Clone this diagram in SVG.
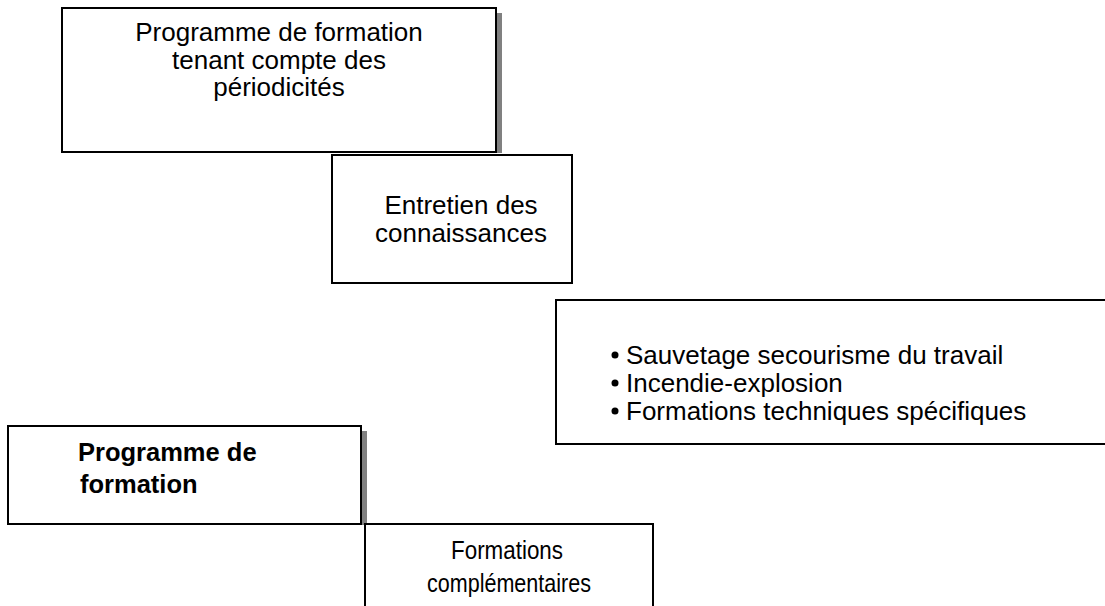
<svg xmlns="http://www.w3.org/2000/svg" width="1105" height="606" viewBox="0 0 1105 606">
<style>
.box{fill:#fff;stroke:#000;stroke-width:2}
.sh{fill:#808080}
.t{font-family:"Liberation Sans",Arial,sans-serif;font-size:26px;fill:#000}
.c{text-anchor:middle}
.b{font-weight:bold;font-size:25.5px}
</style>
<rect width="1105" height="606" fill="#fff"/>
<g id="connectors"></g>
<g id="node-periodicites">
<rect class="sh" x="496" y="13" width="6" height="140"/>
<rect class="box" x="62" y="8" width="434" height="144"/>
<text class="t c" x="279" y="41">Programme de formation</text>
<text class="t c" x="279" y="69">tenant compte des</text>
<text class="t c" x="279" y="96">périodicités</text>
</g>
<g id="node-entretien">
<rect class="box" x="332" y="155" width="240" height="128"/>
<text class="t c" x="461" y="214">Entretien des</text>
<text class="t c" x="461" y="242">connaissances</text>
</g>
<g id="node-liste">
<rect class="box" x="556" y="300" width="560" height="144"/>
<circle cx="615" cy="355" r="3.5" fill="#000"/>
<circle cx="615" cy="383" r="3.5" fill="#000"/>
<circle cx="615" cy="411" r="3.5" fill="#000"/>
<text class="t" x="626" y="364">Sauvetage secourisme du travail</text>
<text class="t" x="626" y="392">Incendie-explosion</text>
<text class="t" x="626" y="420">Formations techniques spécifiques</text>
</g>
<g id="node-programme">
<rect class="sh" x="361" y="431" width="6" height="94"/>
<rect class="box" x="8" y="426" width="353" height="98"/>
<text class="t b" x="78" y="461">Programme de</text>
<text class="t b" x="80" y="493">formation</text>
</g>
<g id="node-complementaires">
<rect class="box" x="365" y="524" width="288" height="100"/>
<text class="t c" x="507" y="559" textLength="112" lengthAdjust="spacingAndGlyphs">Formations</text>
<text class="t c" x="509" y="592" textLength="164" lengthAdjust="spacingAndGlyphs">complémentaires</text>
</g>
</svg>
